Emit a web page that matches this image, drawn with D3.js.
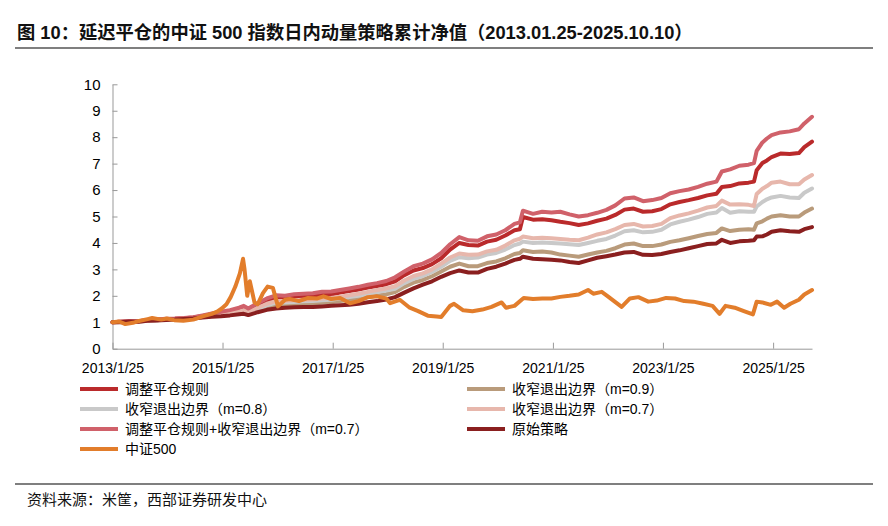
<!DOCTYPE html>
<html><head><meta charset="utf-8">
<script src="https://cdn.jsdelivr.net/npm/d3@7/dist/d3.min.js"></script>
<style>
body{margin:0;background:#fff;}
svg{display:block;}
text{font-family:"Liberation Sans","Noto Sans CJK SC",sans-serif;}
</style></head>
<body><svg id="c" width="888" height="526"></svg>
<script>
// ---------- DATA ----------
const seriesNames = ["调整平仓规则","收窄退出边界（m=0.9）","收窄退出边界（m=0.8）","收窄退出边界（m=0.7）","调整平仓规则+收窄退出边界（m=0.7）","原始策略","中证500"];
const dates = [
"2013-01-25","2013-03-15","2013-05-15","2013-07-15","2013-09-15","2013-11-15",
"2014-01-15","2014-03-15","2014-05-15","2014-07-15","2014-09-15","2014-11-15",
"2015-01-15","2015-03-15","2015-05-15","2015-06-15","2015-07-15","2015-09-15","2015-11-15",
"2016-01-15","2016-03-15","2016-05-15","2016-07-15","2016-09-15","2016-11-15",
"2017-01-15","2017-03-15","2017-05-15","2017-07-15","2017-09-15","2017-11-15",
"2018-01-15","2018-03-15","2018-05-15","2018-07-15","2018-09-15","2018-11-15",
"2019-01-15","2019-03-15","2019-05-15","2019-07-15","2019-09-15","2019-11-15",
"2020-01-15","2020-03-15","2020-05-15","2020-06-20","2020-07-10","2020-09-15","2020-11-15",
"2021-01-15","2021-03-15","2021-05-15","2021-07-15","2021-09-15","2021-11-15",
"2022-01-15","2022-03-15","2022-05-15","2022-07-15","2022-09-15","2022-11-15",
"2023-01-15","2023-03-15","2023-05-15","2023-07-15","2023-09-15","2023-11-15",
"2024-01-15","2024-02-20","2024-04-15","2024-06-15","2024-08-15","2024-09-20","2024-10-08","2024-11-15","2024-12-15",
"2025-01-15","2025-03-15","2025-05-15","2025-07-15","2025-08-20","2025-10-10"];
const adjClose = [1.00,1.02,1.05,1.04,1.08,1.10,1.12,1.13,1.15,1.18,1.24,1.30,1.36,1.42,1.50,1.56,1.47,1.65,1.82,1.93,1.92,1.96,1.98,2.00,2.03,2.05,2.12,2.18,2.24,2.31,2.37,2.44,2.55,2.78,2.96,3.05,3.20,3.42,3.75,4.00,3.92,3.90,4.05,4.12,4.28,4.48,4.52,4.98,4.88,4.90,4.86,4.80,4.75,4.68,4.74,4.84,4.92,5.06,5.26,5.30,5.18,5.20,5.28,5.46,5.55,5.62,5.70,5.80,5.86,6.12,6.15,6.25,6.28,6.32,6.75,7.02,7.12,7.25,7.38,7.36,7.40,7.62,7.83];
const narrow09 = [1.00,1.01,1.03,1.03,1.06,1.08,1.10,1.11,1.13,1.15,1.20,1.24,1.28,1.31,1.36,1.39,1.34,1.45,1.56,1.64,1.66,1.68,1.70,1.71,1.74,1.76,1.80,1.84,1.89,1.95,2.00,2.06,2.14,2.34,2.50,2.60,2.74,2.92,3.10,3.22,3.12,3.12,3.24,3.30,3.42,3.58,3.62,3.72,3.66,3.68,3.64,3.56,3.52,3.48,3.56,3.64,3.70,3.80,3.94,3.98,3.88,3.88,3.94,4.04,4.10,4.18,4.26,4.34,4.38,4.55,4.45,4.50,4.52,4.50,4.74,4.82,4.92,5.00,5.05,5.00,5.00,5.15,5.30];
const narrow08 = [1.00,1.01,1.04,1.03,1.07,1.08,1.11,1.12,1.13,1.16,1.21,1.26,1.30,1.34,1.40,1.43,1.37,1.50,1.64,1.74,1.75,1.77,1.79,1.80,1.83,1.85,1.90,1.95,2.00,2.07,2.14,2.20,2.27,2.48,2.64,2.75,2.90,3.10,3.32,3.46,3.42,3.45,3.56,3.62,3.75,3.92,3.98,4.05,4.00,4.02,4.00,3.98,3.95,3.92,4.00,4.08,4.15,4.28,4.44,4.48,4.40,4.42,4.50,4.70,4.80,4.88,4.98,5.10,5.15,5.32,5.14,5.20,5.18,5.18,5.38,5.55,5.65,5.72,5.78,5.72,5.70,5.90,6.06];
const narrow07 = [1.00,1.01,1.04,1.03,1.07,1.09,1.11,1.12,1.14,1.17,1.22,1.27,1.32,1.36,1.42,1.46,1.39,1.55,1.70,1.80,1.80,1.83,1.85,1.86,1.90,1.92,1.97,2.02,2.08,2.15,2.22,2.28,2.36,2.58,2.75,2.85,3.00,3.22,3.45,3.60,3.55,3.56,3.68,3.74,3.90,4.10,4.16,4.24,4.18,4.20,4.18,4.15,4.12,4.10,4.20,4.32,4.40,4.52,4.68,4.72,4.62,4.64,4.72,4.94,5.04,5.12,5.22,5.34,5.40,5.60,5.45,5.46,5.44,5.40,5.85,6.05,6.15,6.28,6.32,6.22,6.22,6.40,6.57];
const adjNarrow07 = [1.00,1.02,1.05,1.04,1.09,1.10,1.13,1.14,1.16,1.19,1.26,1.33,1.40,1.46,1.55,1.62,1.52,1.72,1.90,2.02,2.00,2.06,2.08,2.10,2.15,2.16,2.22,2.28,2.34,2.42,2.48,2.56,2.70,2.92,3.12,3.22,3.38,3.62,3.95,4.22,4.10,4.08,4.25,4.32,4.48,4.72,4.78,5.22,5.10,5.18,5.15,5.18,5.08,5.00,5.05,5.14,5.25,5.42,5.68,5.72,5.58,5.62,5.70,5.88,5.96,6.02,6.12,6.24,6.32,6.70,6.78,6.92,6.96,7.02,7.48,7.80,7.95,8.08,8.18,8.22,8.30,8.52,8.77];
const original = [1.00,1.00,1.03,1.02,1.06,1.07,1.09,1.10,1.12,1.14,1.18,1.21,1.23,1.26,1.30,1.32,1.27,1.38,1.47,1.52,1.55,1.57,1.58,1.58,1.60,1.62,1.64,1.66,1.70,1.76,1.80,1.86,1.95,2.12,2.28,2.42,2.55,2.72,2.86,2.96,2.88,2.88,3.02,3.10,3.22,3.36,3.40,3.48,3.40,3.38,3.36,3.34,3.28,3.24,3.34,3.44,3.50,3.56,3.64,3.66,3.55,3.54,3.58,3.66,3.72,3.80,3.88,3.96,3.98,4.12,4.00,4.06,4.08,4.10,4.24,4.25,4.32,4.42,4.48,4.44,4.42,4.52,4.60];
const csiDates = [
"2013-01-25","2013-03-10","2013-04-20","2013-06-10","2013-07-20","2013-09-15","2013-10-15","2013-12-15",
"2014-01-20","2014-03-10","2014-05-10","2014-07-15","2014-09-15","2014-11-15","2014-12-20",
"2015-01-20","2015-02-20","2015-03-20","2015-04-20","2015-05-20","2015-06-10","2015-06-20","2015-07-08","2015-07-25","2015-08-25","2015-09-15","2015-10-20","2015-11-20","2015-12-25",
"2016-01-28","2016-03-15","2016-04-15","2016-06-15","2016-08-15","2016-10-15","2016-11-25",
"2017-01-15","2017-03-15","2017-05-20","2017-07-15","2017-09-15","2017-11-15",
"2018-01-15","2018-02-10","2018-04-15","2018-06-20","2018-08-15","2018-10-18","2018-12-15",
"2019-01-15","2019-03-15","2019-04-10","2019-06-10","2019-08-10","2019-10-15","2019-12-15",
"2020-02-20","2020-03-20","2020-05-15","2020-07-15","2020-09-15","2020-11-15",
"2021-01-15","2021-03-15","2021-05-15","2021-07-15","2021-09-15","2021-10-20","2021-12-15",
"2022-01-20","2022-04-26","2022-06-20","2022-08-15","2022-10-20","2022-12-15",
"2023-02-15","2023-04-15","2023-06-15","2023-08-15","2023-10-20","2023-12-20",
"2024-02-05","2024-03-15","2024-05-15","2024-07-15","2024-09-13","2024-10-08","2024-11-15",
"2025-01-10","2025-02-20","2025-04-08","2025-05-20","2025-07-15","2025-08-20","2025-10-10"];
const csi500 = [1.00,1.03,0.93,0.98,1.05,1.12,1.16,1.10,
1.14,1.08,1.06,1.10,1.22,1.32,1.40,
1.52,1.68,1.95,2.35,2.85,3.40,3.00,2.00,2.55,1.75,1.68,2.10,2.35,2.30,
1.60,1.85,1.88,1.80,1.92,1.90,1.98,
1.88,1.92,1.72,1.80,1.95,1.98,
1.90,1.72,1.85,1.55,1.42,1.25,1.22,
1.20,1.62,1.70,1.45,1.42,1.48,1.58,
1.75,1.55,1.62,1.92,1.88,1.90,
1.90,1.96,2.00,2.05,2.22,2.08,2.15,
2.00,1.58,1.90,1.95,1.78,1.82,
1.92,1.90,1.80,1.78,1.70,1.62,
1.32,1.62,1.55,1.42,1.30,1.78,1.75,
1.66,1.78,1.55,1.70,1.85,2.05,2.22];
const seriesColors = ["#BA2A2B","#B99B7B","#C9C9C9","#E7B7AC","#D0616A","#8A1F1F","#E27D2B"];
const yTicks = [0,1,2,3,4,5,6,7,8,9,10];
const xTickDates = ["2013-01-25","2015-01-25","2017-01-25","2019-01-25","2021-01-25","2023-01-25","2025-01-25"];
const titleText = "图 10：延迟平仓的中证 500 指数日内动量策略累计净值（2013.01.25-2025.10.10）";
const sourceText = "资料来源：米筐，西部证券研发中心";

// ---------- CHART ----------
const svg = d3.select("#c");
const parse = d3.timeParse("%Y-%m-%d");
const x = d3.scaleTime().domain([parse("2013-01-25"), parse("2025-10-10")]).range([112.5, 812]);
const y = d3.scaleLinear().domain([0, 10]).range([348.7, 84.3]);

// title + rules
svg.append("text").attr("x", 17).attr("y", 39).attr("font-size", 18.3).attr("font-weight", "bold")
  .attr("fill", "#111").text(titleText);
svg.append("line").attr("x1", 15).attr("x2", 873).attr("y1", 48).attr("y2", 48).attr("stroke", "#555").attr("stroke-width", 1.5);
svg.append("line").attr("x1", 15).attr("x2", 873).attr("y1", 484).attr("y2", 484).attr("stroke", "#555").attr("stroke-width", 1.5);
svg.append("text").attr("x", 27).attr("y", 505).attr("font-size", 15).attr("fill", "#111").text(sourceText);

// axes
const yAxis = d3.axisLeft(y).tickValues(yTicks).tickSizeInner(-5).tickSizeOuter(0).tickPadding(12);
const gy = svg.append("g").attr("transform", "translate(112.5,0)").call(yAxis);
gy.selectAll("text").attr("font-size", 15).attr("fill", "#000").attr("font-family", "Liberation Sans");
gy.selectAll("path,line").attr("stroke", "#999");

const fmt = d => (d.getFullYear() + "/" + (d.getMonth() + 1) + "/" + d.getDate());
const xAxis = d3.axisBottom(x).tickValues(xTickDates.map(parse)).tickFormat(fmt).tickSizeInner(-6).tickSizeOuter(0).tickPadding(14);
const gx = svg.append("g").attr("transform", "translate(0,348.7)").call(xAxis);
gx.selectAll("text").attr("font-size", 14).attr("fill", "#000").attr("font-family", "Liberation Sans");
gx.selectAll("path,line").attr("stroke", "#999");

// lines
const strat = [adjClose, narrow09, narrow08, narrow07, adjNarrow07, original];
const line = d3.line().x(d => x(d[0])).y(d => y(d[1]));
const plotData = strat.map(arr => dates.map((d, i) => [parse(d), arr[i]]));
plotData.push(csiDates.map((d, i) => [parse(d), csi500[i]]));
svg.append("g").selectAll("path").data(plotData).join("path")
  .attr("d", line).attr("fill", "none")
  .attr("stroke", (d, i) => seriesColors[i]).attr("stroke-width", 4)
  .attr("stroke-linejoin", "round").attr("stroke-linecap", "round");

// legend
const lg = svg.append("g");
seriesNames.forEach((n, i) => {
  const col = i % 2, row = Math.floor(i / 2);
  const lx = col === 0 ? 80 : 467, ly = 389 + row * 20;
  lg.append("line").attr("x1", lx).attr("x2", lx + 38).attr("y1", ly).attr("y2", ly)
    .attr("stroke", seriesColors[i]).attr("stroke-width", 4);
  lg.append("text").attr("x", lx + 45).attr("y", ly + 5).attr("font-size", 14).attr("fill", "#000").text(n);
});
</script></body></html>
